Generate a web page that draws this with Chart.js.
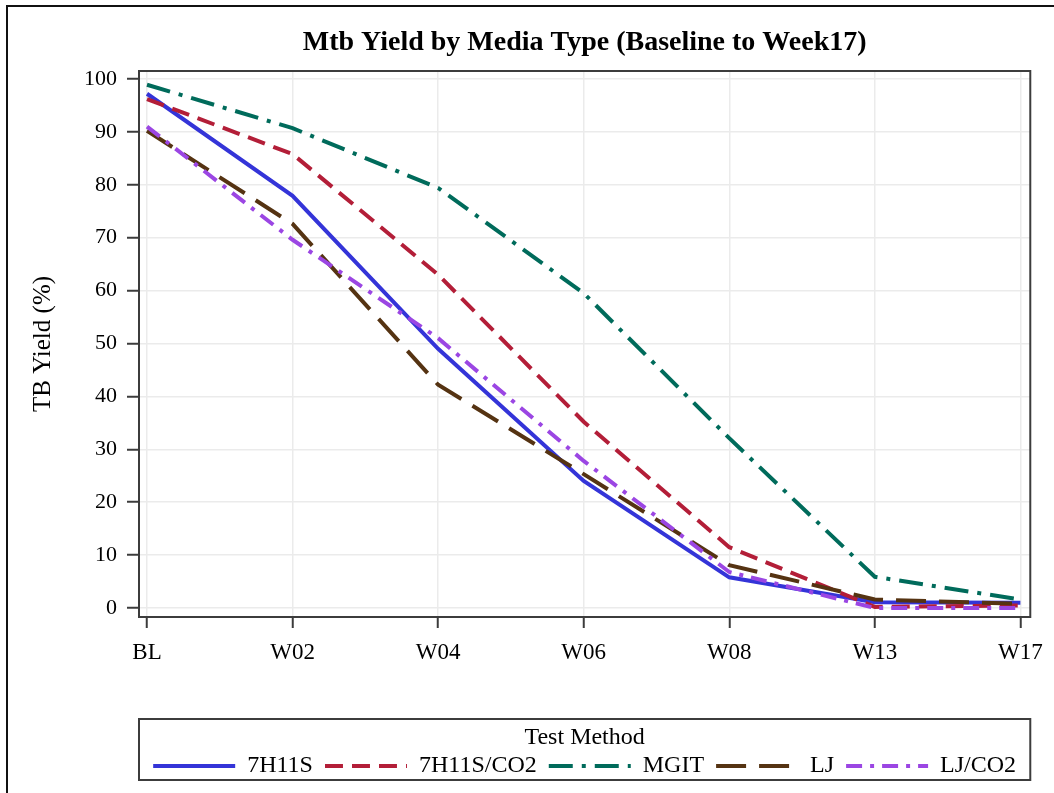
<!DOCTYPE html>
<html lang="en">
<head>
    <meta charset="UTF-8">
    <title>Mtb Yield by Media Type</title>
    <script src="https://cdn.jsdelivr.net/npm/chart.js"></script>
    <style>
        html, body {
            margin: 0;
            padding: 0;
            background: #fff;
        }
        #wrap {
            width: 1054px;
            height: 793px;
        }
    </style>
</head>
<body>
    <div id="wrap">
        <canvas id="yieldChart" width="1054" height="793"></canvas>
    </div>

    <script>
        // Datos
        const categories = ['BL', 'W02', 'W04', 'W06', 'W08', 'W13', 'W17'];
        const yTicks = [0, 10, 20, 30, 40, 50, 60, 70, 80, 90, 100];

        const h11s    = [97.2, 77.9, 49.0, 24.0, 5.8, 1.1, 1.0];
        const h11sCo2 = [96.2, 85.8, 63.0, 35.2, 11.5, 0.2, 0.5];
        const mgit    = [98.9, 90.7, 79.4, 59.5, 32.1, 5.9, 1.6];
        const lj      = [90.2, 72.6, 42.2, 25.3, 8.1, 1.6, 0.8];
        const ljCo2   = [91.0, 69.6, 51.0, 27.8, 6.8, 0.0, 0.0];

        const serif = 'Liberation Serif';

        function toPoints(values) {
            return values.map((v, i) => ({ x: i, y: v }));
        }

        function makeSet(label, values, color, dash, order) {
            return {
                label: label,
                data: toPoints(values),
                borderColor: color,
                backgroundColor: color,
                borderWidth: 4,
                borderDash: dash,
                borderCapStyle: 'butt',
                pointRadius: 0,
                tension: 0,
                order: order
            };
        }

        // marco exterior, marco del area y caja de la leyenda
        const frames = {
            id: 'frames',
            beforeDraw(chart) {
                const ctx = chart.ctx;
                ctx.save();
                ctx.fillStyle = '#fff';
                ctx.fillRect(0, 0, chart.width, chart.height);
                ctx.strokeStyle = '#111';
                ctx.lineWidth = 2;
                ctx.beginPath();
                ctx.moveTo(7, chart.height);
                ctx.lineTo(7, 6);
                ctx.lineTo(chart.width, 6);
                ctx.stroke();
                ctx.restore();
            },
            afterDraw(chart) {
                const ctx = chart.ctx;
                const a = chart.chartArea;
                const lg = chart.legend;
                ctx.save();
                ctx.strokeStyle = '#3c3c3c';
                ctx.lineWidth = 2;
                ctx.setLineDash([]);
                ctx.strokeRect(a.left, a.top, a.right - a.left, a.bottom - a.top);
                ctx.strokeRect(a.left, lg.top - 3, a.right - a.left, lg.bottom - lg.top - 5);
                ctx.restore();
            }
        };

        const chart = new Chart(document.getElementById('yieldChart'), {
            type: 'line',
            data: {
                datasets: [
                    makeSet('7H11S', h11s, '#3434d8', [], 4),
                    makeSet('7H11S/CO2', h11sCo2, '#b31e38', [18, 9], 3),
                    makeSet('MGIT', mgit, '#006b5b', [24, 9, 4, 9], 2),
                    makeSet('LJ', lj, '#553312', [30, 13], 1),
                    makeSet('LJ/CO2', ljCo2, '#9b46e3', [16, 8, 4, 8], 0)
                ]
            },
            options: {
                responsive: false,
                animation: false,
                layout: {
                    padding: { left: 8, right: 22, top: 0, bottom: 5 }
                },
                scales: {
                    x: {
                        type: 'linear',
                        min: -0.055,
                        max: 6.068,
                        afterBuildTicks: s => { s.ticks = categories.map((c, i) => ({ value: i })); },
                        afterFit: s => { s.height = 105; },
                        ticks: {
                            callback: v => categories[v],
                            color: '#000',
                            font: { family: serif, size: 23 },
                            padding: 11,
                            maxRotation: 0,
                            autoSkip: false
                        },
                        grid: {
                            color: '#ebebeb',
                            lineWidth: 1.5,
                            tickColor: '#3c3c3c',
                            tickLength: 11,
                            tickWidth: 2
                        },
                        border: { display: false }
                    },
                    y: {
                        min: -1.7,
                        max: 101.5,
                        afterBuildTicks: s => { s.ticks = yTicks.map(v => ({ value: v })); },
                        afterFit: s => { s.width = 131; },
                        ticks: {
                            color: '#000',
                            font: { family: serif, size: 22 },
                            padding: 10
                        },
                        grid: {
                            color: '#ebebeb',
                            lineWidth: 1.5,
                            tickColor: '#3c3c3c',
                            tickLength: 12,
                            tickWidth: 2
                        },
                        border: { display: false },
                        title: {
                            display: true,
                            text: 'TB Yield (%)',
                            color: '#000',
                            font: { family: serif, size: 25 },
                            padding: { top: 20, bottom: 0 }
                        }
                    }
                },
                plugins: {
                    title: {
                        display: true,
                        text: 'Mtb Yield by Media Type (Baseline to Week17)',
                        fullSize: false,
                        color: '#000',
                        font: { family: serif, size: 28, weight: 'bold', lineHeight: 1.2 },
                        padding: { top: 26, bottom: 11.4 }
                    },
                    legend: {
                        position: 'bottom',
                        fullSize: false,
                        align: 'center',
                        title: {
                            display: true,
                            text: 'Test Method',
                            color: '#000',
                            font: { family: serif, size: 24, lineHeight: 1 },
                            padding: { top: 4, bottom: -8 }
                        },
                        labels: {
                            usePointStyle: true,
                            pointStyleWidth: 82,
                            color: '#000',
                            font: { family: serif, size: 24 },
                            padding: 12,
                            generateLabels: c => c.data.datasets.map((ds, i) => ({
                                text: ds.label,
                                strokeStyle: ds.borderColor,
                                fillStyle: ds.borderColor,
                                fontColor: '#000',
                                lineWidth: ds.borderWidth,
                                lineDash: ds.borderDash,
                                lineCap: 'butt',
                                pointStyle: 'line',
                                hidden: false,
                                datasetIndex: i
                            }))
                        }
                    },
                    tooltip: { enabled: false }
                }
            },
            plugins: [frames]
        });
    </script>
</body>
</html>
